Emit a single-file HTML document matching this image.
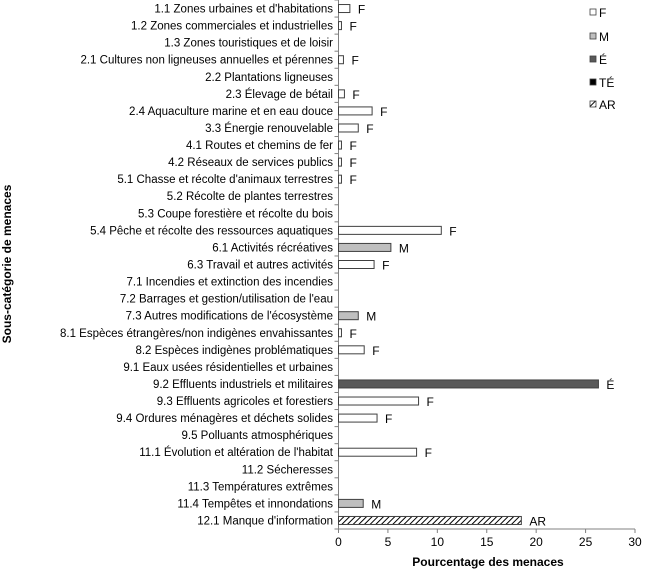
<!DOCTYPE html>
<html><head><meta charset="utf-8"><style>
body{margin:0;background:#fff;}
svg text{font-family:"Liberation Sans",Arial,sans-serif;fill:#000;}
</style></head><body>
<svg id="chart" width="650" height="572" xmlns="http://www.w3.org/2000/svg">
<defs><pattern id="hatch" patternUnits="userSpaceOnUse" width="4" height="4" patternTransform="rotate(45)"><rect width="4" height="4" fill="#fff"/><line x1="0" y1="0" x2="0" y2="4" stroke="#000" stroke-width="2"/></pattern></defs>
<g id="plot"></g>
</svg>
<script>
const categories=["1.1 Zones urbaines et d'habitations","1.2 Zones commerciales et industrielles","1.3 Zones touristiques et de loisir","2.1 Cultures non ligneuses annuelles et pérennes","2.2 Plantations ligneuses","2.3 Élevage de bétail","2.4 Aquaculture marine et en eau douce","3.3 Énergie renouvelable","4.1 Routes et chemins de fer","4.2 Réseaux de services publics","5.1 Chasse et récolte d'animaux terrestres","5.2 Récolte de plantes terrestres","5.3 Coupe forestière et récolte du bois","5.4 Pêche et récolte des ressources aquatiques","6.1 Activités récréatives","6.3 Travail et autres activités","7.1 Incendies et extinction des incendies","7.2 Barrages et gestion/utilisation de l'eau","7.3 Autres modifications de l'écosystème","8.1 Espèces étrangères/non indigènes envahissantes","8.2 Espèces indigènes problématiques","9.1 Eaux usées résidentielles et urbaines","9.2 Effluents industriels et militaires","9.3 Effluents agricoles et forestiers","9.4 Ordures ménagères et déchets solides","9.5 Polluants atmosphériques","11.1 Évolution et altération de l'habitat","11.2 Sécheresses","11.3 Températures extrêmes","11.4 Tempêtes et innondations","12.1 Manque d'information"];
const values=[1.15,0.3,0,0.5,0,0.6,3.4,2.0,0.3,0.3,0.3,0,0,10.4,5.3,3.6,0,0,2.0,0.3,2.6,0,26.3,8.1,3.9,0,7.9,0,0,2.5,18.5];
const severity=["F","F","","F","","F","F","F","F","F","F","","","F","M","F","","","M","F","F","","É","F","F","","F","","","M","AR"];
const xTicks=[0,5,10,15,20,25,30];
const legendKeys=["F","M","É","TÉ","AR"];
const fills={"F":"#fff","M":"#bfbfbf","É":"#595959","TÉ":"#000","AR":"url(#hatch)"};
const NS="http://www.w3.org/2000/svg";
const g=document.getElementById('plot');
const x0=338.5,x1=635,yTop=0,yBot=529;
const xs=v=>x0+(v/30)*(x1-x0);
const band=(yBot-yTop)/categories.length;
const yc=i=>yTop+band*(i+0.5);
function mk(t,a){const e=document.createElementNS(NS,t);for(const k in a)e.setAttribute(k,a[k]);g.appendChild(e);return e;}
let ax=mk('line',{x1:x0,y1:yTop,x2:x0,y2:yBot,stroke:'#808080'});

let bx=mk('line',{x1:x0,y1:yBot,x2:x1,y2:yBot,stroke:'#808080'});

for(let i=0;i<=categories.length;i++){mk('line',{x1:x0-4,y1:yTop+band*i,x2:x0,y2:yTop+band*i,stroke:'#808080'});}
xTicks.forEach(t=>{
 mk('line',{x1:xs(t),y1:yBot,x2:xs(t),y2:yBot+4,stroke:'#808080'});
 const tx=mk('text',{x:xs(t),y:yBot+17,'text-anchor':'middle','font-size':'12'});tx.textContent=t;
 
});
categories.forEach((c,i)=>{
 const l=mk('text',{x:333,y:yc(i)+4,'text-anchor':'end','font-size':'11.5'});l.textContent=c;
 
 if(values[i]>0){
  const r=mk('rect',{x:x0,y:yc(i)-4,width:xs(values[i])-x0,height:8,fill:fills[severity[i]],stroke:'#404040','stroke-width':'1'});
  
  const s=mk('text',{x:xs(values[i])+8,y:yc(i)+5,'font-size':'12'});s.textContent=severity[i];
  
 }
});
legendKeys.forEach((k,i)=>{
 const y=[13,37,60,83,105][i];
 const r=mk('rect',{x:590,y:y-4,width:6,height:6,fill:fills[k],stroke:'#404040','stroke-width':'0.8'});
 
 const t=mk('text',{x:599,y:y+4,'font-size':'12'});t.textContent=k;
 
});
const xt=mk('text',{x:488,y:566,'text-anchor':'middle','font-size':'12','font-weight':'bold'});xt.textContent='Pourcentage des menaces';

const yt=mk('text',{x:0,y:0,'text-anchor':'middle','font-size':'12','font-weight':'bold',transform:'translate(11,264) rotate(-90)'});yt.textContent='Sous-catégorie de menaces';

</script>
</body></html>
